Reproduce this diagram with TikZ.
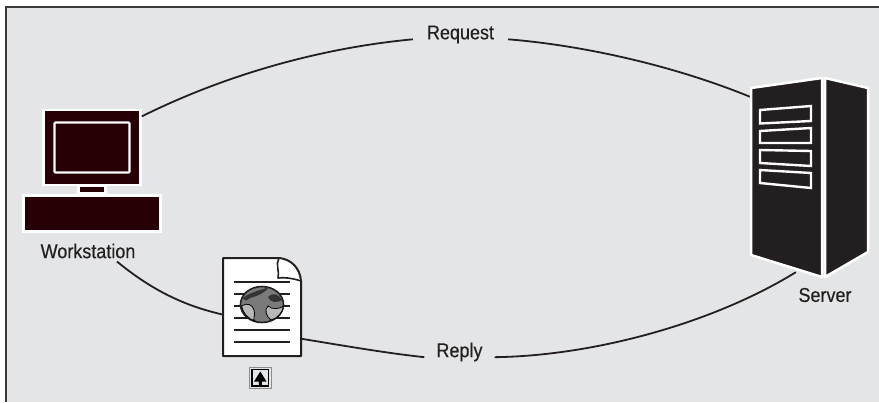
\documentclass[tikz,border=0pt]{standalone}
\usepackage{fontspec}
\setmainfont[FakeStretch=0.9, FakeBold=0.35]{Liberation Sans}
\definecolor{panelgray}{HTML}{E4E5E7}
\definecolor{pcdark}{HTML}{270006}
\definecolor{srvdark}{HTML}{231F20}
\definecolor{framegray}{HTML}{3A3A3A}
\tikzset{
  wire/.style={line width=1.8pt, draw=srvdark},
  caption/.style={font=\fontsize{20}{20}\selectfont, text=srvdark, inner ysep=3pt},
  pcpart/.style={draw=white, fill=pcdark, line width=2.5pt, inner sep=0pt},
  slot/.style={draw=white, line width=2.4pt},
  docline/.style={line width=1.8pt, draw=srvdark},
  land/.style={fill=black!28, draw=black, line width=0.8pt}
}
\begin{document}
\begin{tikzpicture}[x=1pt, y=-1pt]
\useasboundingbox (0,0) rectangle (879,402);
% Panel and its frame
\fill[panelgray] (6,7) rectangle (879,402);
\draw[framegray, line width=2.5pt] (6,402) -- (6,7) -- (879,7);

% Workstation
\node[pcpart, minimum width=97pt, minimum height=75pt] (monitor) at (92,147.5) {};
\node[draw=white, line width=2.2pt, inner sep=0pt, minimum width=75pt, minimum height=50pt, rounded corners=1pt] (screen) at (92,147.5) {};
\node[pcpart, minimum width=27pt, minimum height=8pt] (neck) at (92,189.5) {};
\node[pcpart, minimum width=137pt, minimum height=36pt] (base) at (92,213.5) {};
\node[caption] (workstation) at (88,251) {Workstation};

% Server, the node only gives the anchors
\node[minimum width=117pt, minimum height=194pt, inner sep=0pt] (server) at (809.5,175) {};
\node[caption] (serverlabel) at (825,295) {Server};

% Document
\node[minimum width=78pt, minimum height=98pt, inner sep=0pt] (document) at (262,307) {};
\node[inner sep=0pt, minimum size=1pt] (icon) at (260,377.5) {};

% Labels on the lines
\node[caption, inner xsep=14pt] (request) at (460.5,34.5) {Request};
\node[caption, inner xsep=12pt] (reply) at (459.5,352) {Reply};

% Draw the connections
\draw[wire] (monitor.32) .. controls (225,75) and (320,48) .. (request.base west);
\draw[wire] (request.base east) .. controls (590,46) and (680,68) .. (server.127.6);
\draw[wire] ([xshift=29pt]workstation.south) .. controls (160,297) and (195,308) .. (document.191.6);
\draw[wire] (document.321.5) .. controls (340,345) and (385,353) .. (reply.base west);
\draw[wire] (reply.base east) .. controls (590,356) and (710,325) .. (server.262.7);

% Server faces
\draw[fill=srvdark, draw=white, line width=2.5pt, line join=round] (751,88) -- (822,78) -- (822,277) -- (751,255) -- cycle;
\draw[fill=srvdark, draw=white, line width=2.5pt, line join=round] (825,78) -- (868,88) -- (868,252) -- (825,277) -- cycle;
\draw[slot] (760,110) -- (811,106) -- (811,121) -- (760,123.5) -- cycle;
\draw[slot] (760,131) -- (811,128) -- (811,143) -- (760,143) -- cycle;
\draw[slot] (760,150) -- (811,151) -- (811,166) -- (760,163) -- cycle;
\draw[slot] (760,170) -- (811,173) -- (811,188) -- (760,183) -- cycle;

% Document page with the folded corner
\draw[fill=white, draw=srvdark, line width=2pt, line join=round] (223,258) -- (279,258) .. controls (291,259) and (300,268) .. (301,281) -- (301,356) -- (223,356) -- cycle;
\draw[fill=white, draw=srvdark, line width=1.6pt, line join=round] (279,258) .. controls (275,264) and (280,272) .. (278,278) .. controls (286,277) and (295,279) .. (301,281);
\draw[docline] (234,282) -- (290,282);
\draw[docline] (234,294) -- (290,294);
\draw[docline] (234,306) -- (290,306);
\draw[docline] (234,318) -- (290,318);
\draw[docline] (234,330) -- (290,330);
\draw[docline] (234,342) -- (290,342);

% Globe
\draw[fill=black!52, draw=srvdark, line width=1.6pt] (262,304.5) ellipse [x radius=21.5, y radius=18];
\fill[black!80] (243,298) .. controls (250,292) and (262,290) .. (269,287) .. controls (266,292) and (258,296) .. (250,298) .. controls (247,301) and (244,301) .. (243,298) -- cycle;
\draw[land] (241.5,306) .. controls (247,302) and (253,305) .. (254,310) .. controls (256,314) and (252,320) .. (255,321) .. controls (248,319) and (243,313) .. (241.5,306) -- cycle;
\draw[land] (268,306) .. controls (272,310) and (280,309) .. (283.5,306) .. controls (283,312) and (277,319) .. (271,320) .. controls (266,316) and (264,310) .. (268,306) -- cycle;
\fill[black!80] (268,297) .. controls (272,292) and (279,294) .. (282,300) .. controls (277,303) and (270,303) .. (268,297) -- cycle;

% Small marker under the page
\draw[draw=black!45, fill=panelgray, line width=0.8pt] (249.5,367) rectangle (271,388.5);
\draw[draw=black, line width=1.6pt] (252,369.5) rectangle (268.5,386);
\fill[black] (260.3,371.5) -- (266.5,381.5) -- (261.8,381.5) -- (261.8,386) -- (258.8,386) -- (258.8,381.5) -- (254,381.5) -- cycle;
\end{tikzpicture}
\end{document}
